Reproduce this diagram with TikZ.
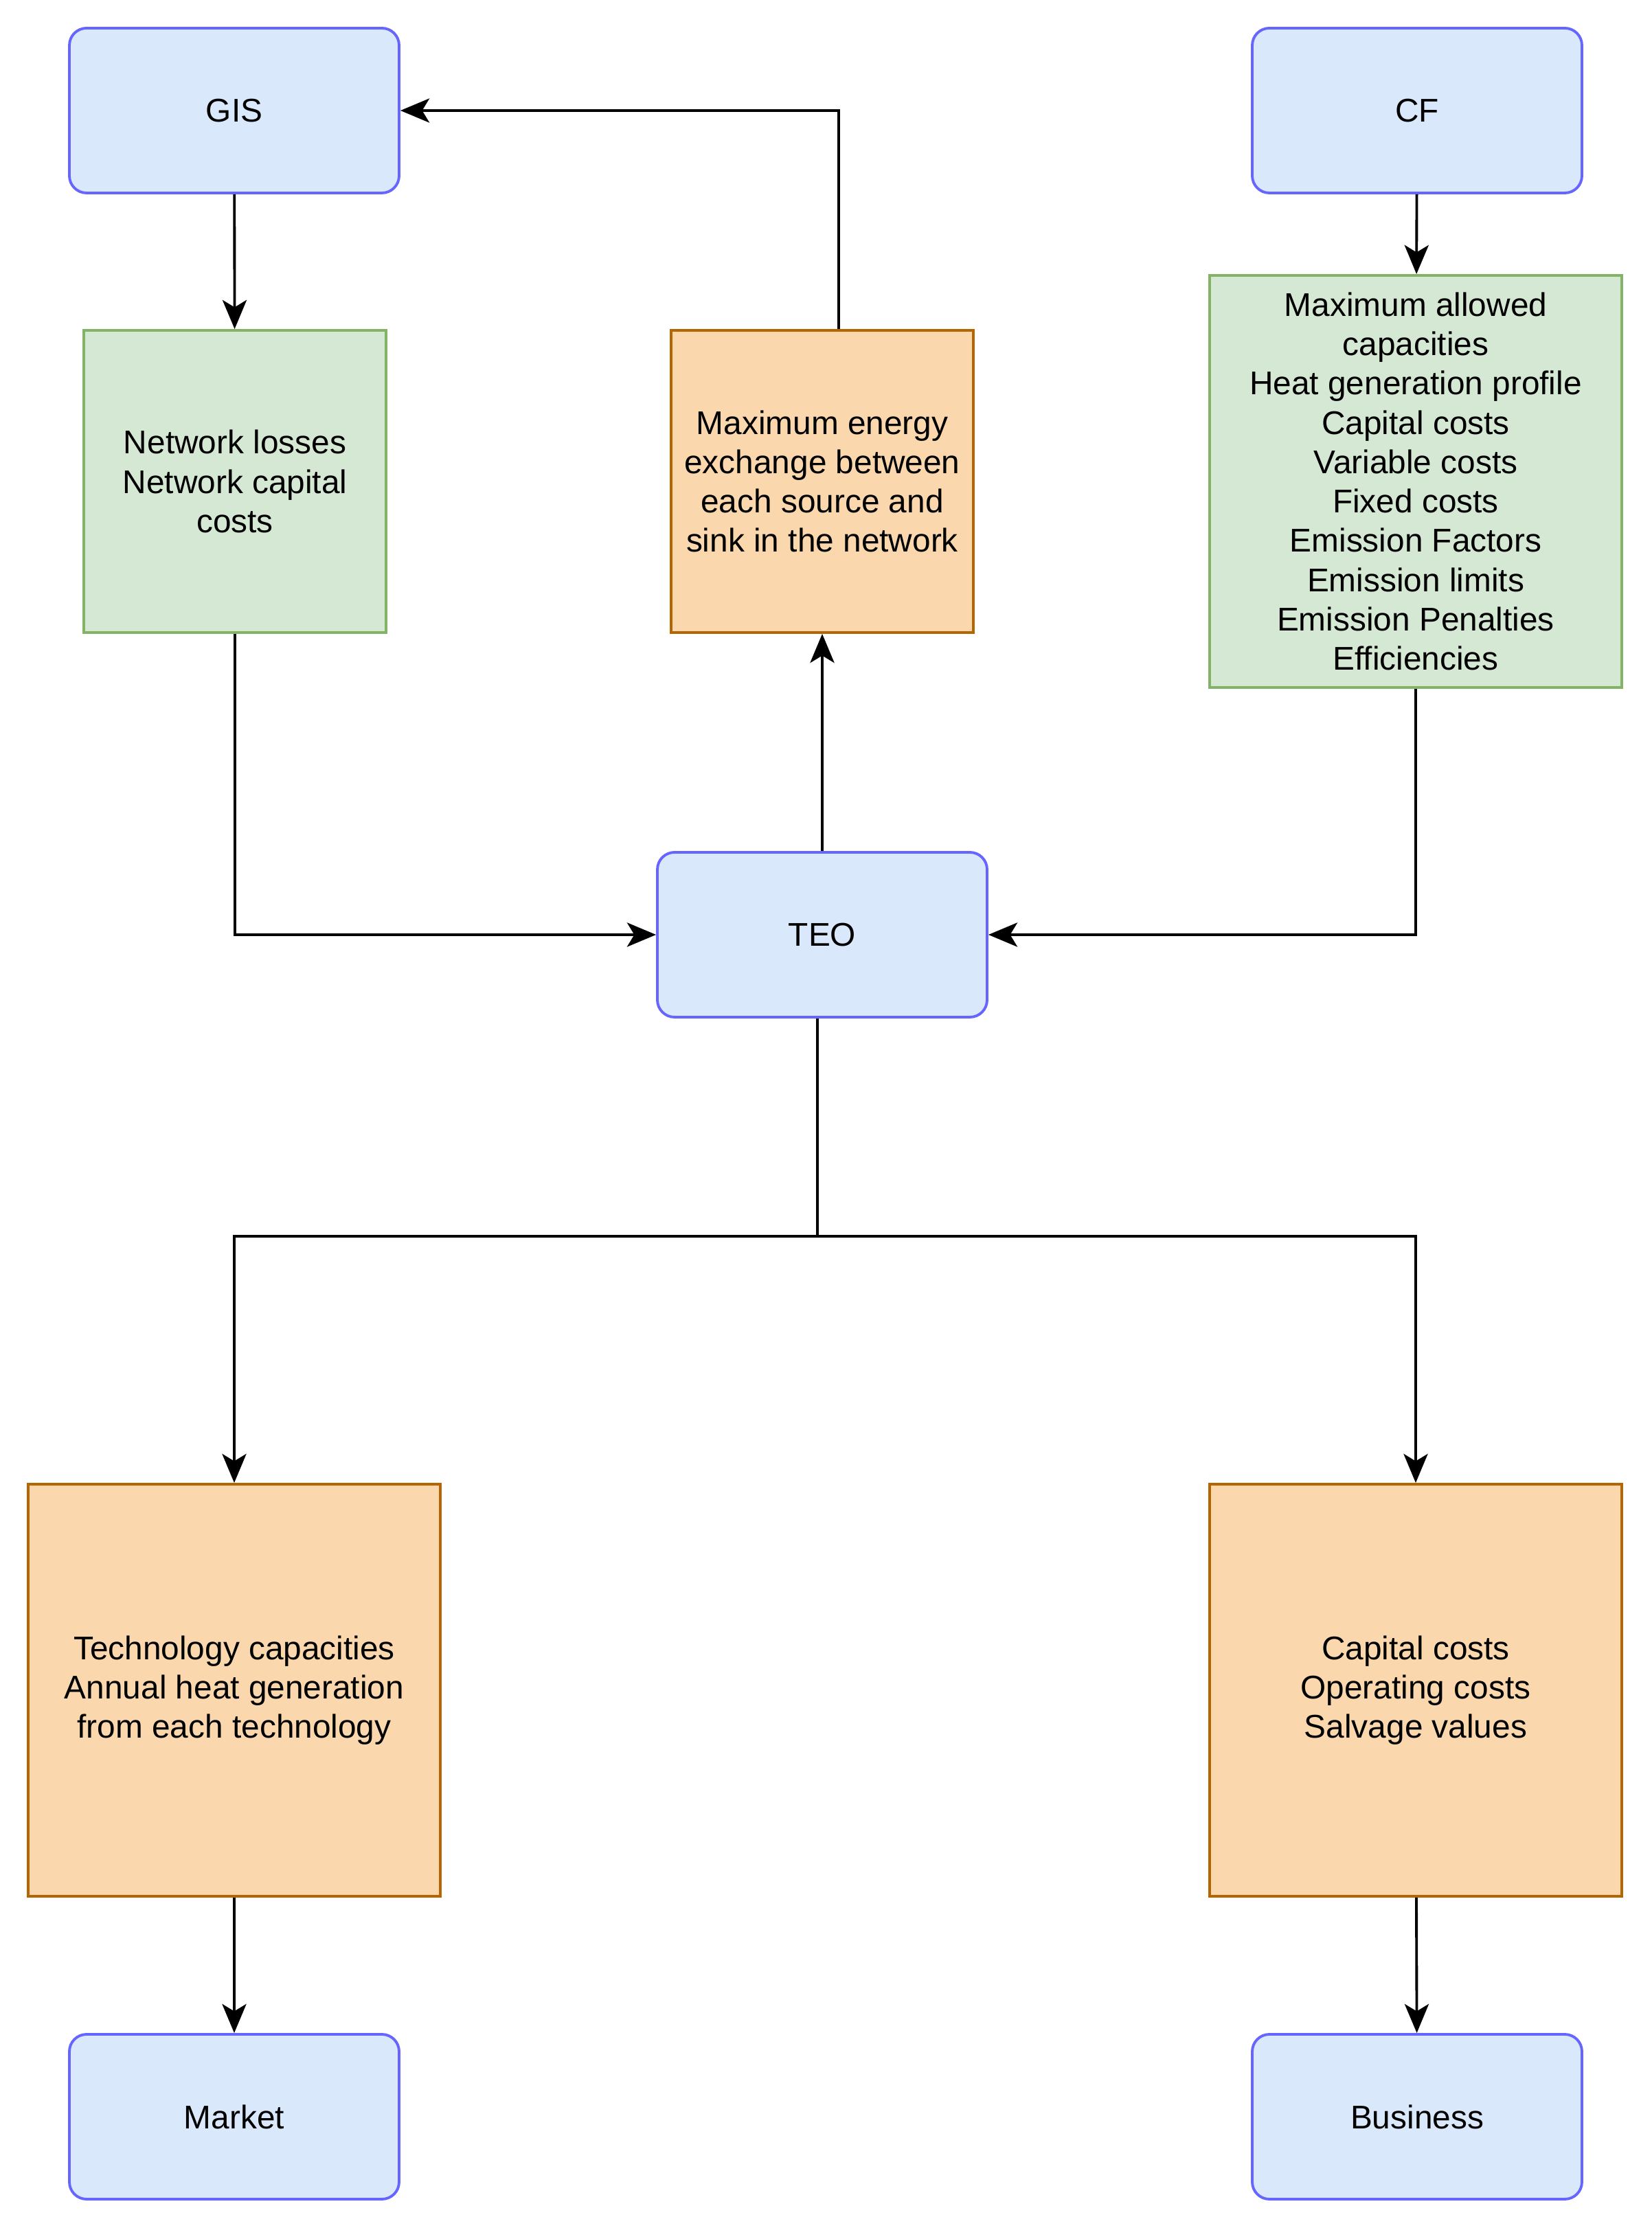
\documentclass[tikz,border=0pt]{standalone}
\usepackage{fontspec}
\setmainfont{Liberation Sans}
\usepackage{tikz}
\usetikzlibrary{arrows.meta,calc}

\definecolor{modfill}{HTML}{DAE8FC}
\definecolor{moddraw}{HTML}{6666FF}
\definecolor{infill}{HTML}{D5E8D4}
\definecolor{indraw}{HTML}{82B366}
\definecolor{outfill}{HTML}{FAD7AC}
\definecolor{outdraw}{HTML}{B46504}

\begin{document}
\begin{tikzpicture}[
    module/.style={draw=moddraw, fill=modfill, line width=1.1pt, rounded corners=0.25cm,
                   minimum width=4.8cm, minimum height=2.4cm, align=center},
    inbox/.style={draw=indraw, fill=infill, line width=1.1pt, align=center},
    outbox/.style={draw=outdraw, fill=outfill, line width=1.1pt, align=center},
    flow/.style={line width=1.1pt, -{Stealth[length=12pt,width=10pt,inset=3pt]}},
    every node/.style={font=\fontsize{13.6}{16.3}\selectfont}
  ]
    \useasboundingbox (0,0) rectangle (24.04,32.44);

    % modules
    \node[module] (gis) at (3.41, 30.83) {GIS};
    \node[module] (cf) at (20.63, 30.83) {CF};
    \node[module] (teo) at (11.97, 18.83) {TEO};
    \node[module] (market) at (3.41, 1.62) {Market};
    \node[module] (business) at (20.63, 1.62) {Business};

    % data boxes
    \node[inbox, minimum width=4.4cm, minimum height=4.4cm] (net) at (3.42, 25.43)
        {Network losses\\Network capital\\costs};
    \node[outbox, minimum width=4.4cm, minimum height=4.4cm] (maxex) at (11.97, 25.43)
        {Maximum energy\\exchange between\\each source and\\sink in the network};
    \node[inbox, minimum width=6cm, minimum height=6cm] (cfdata) at (20.61, 25.43)
        {Maximum allowed\\capacities\\Heat generation profile\\Capital costs\\Variable costs\\Fixed costs\\Emission Factors\\Emission limits\\Emission Penalties\\Efficiencies};
    \node[outbox, minimum width=6cm, minimum height=6cm] (tech) at (3.41, 7.83)
        {Technology capacities\\Annual heat generation\\from each technology};
    \node[outbox, minimum width=6cm, minimum height=6cm] (costs) at (20.61, 7.83)
        {Capital costs\\Operating costs\\Salvage values};

    \coordinate (split) at (11.90, 14.44);

    % connectors
    \draw[flow] (gis) -- (net);
    \draw[flow] (cf) -- (cfdata);
    \draw[flow] ($(maxex.north)+(0.24,0)$) |- (gis.east);
    \draw[flow] (teo) -- (maxex);
    \draw[flow] (net.south) |- (teo.west);
    \draw[flow] (cfdata.south) |- (teo.east);
    \draw[line width=1.1pt] ($(teo.south)+(-0.07,0)$) -- (split);
    \draw[flow] (split) -| (tech.north);
    \draw[flow] (split) -| (costs.north);
    \draw[flow] (tech) -- (market);
    \draw[flow] (costs) -- (business);

\end{tikzpicture}
\end{document}
